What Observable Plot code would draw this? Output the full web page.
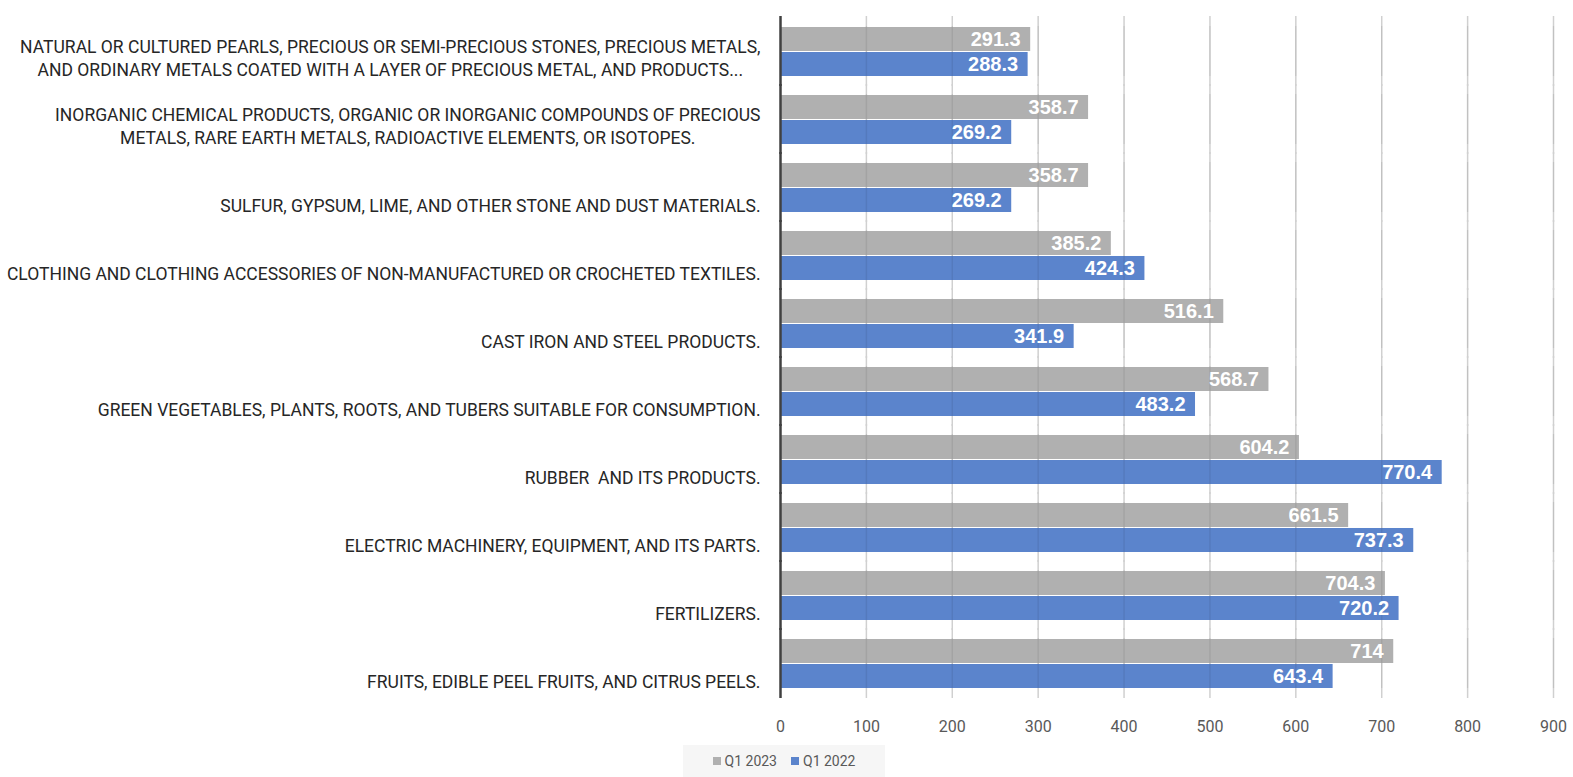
<!DOCTYPE html>
<html><head><meta charset="utf-8">
<script src="https://cdn.jsdelivr.net/npm/d3@7"></script>
<script src="https://cdn.jsdelivr.net/npm/@observablehq/plot@0.6"></script>
<style>
body{margin:0;background:#fff;font-family:Roboto,"Liberation Sans",sans-serif;}
#legend{margin-left:683px;margin-top:5px;width:202px;height:32px;background:#f6f6f6;display:flex;align-items:center;justify-content:center;gap:14px;font-size:14px;color:#595959;}
#legend .item{display:flex;align-items:center;gap:4px;}
#legend .sw{width:8px;height:8px;display:inline-block;}
</style></head><body>
<div id="chart"></div>
<div id="legend"></div>
<script>
const categories = [
  "NATURAL OR CULTURED PEARLS, PRECIOUS OR SEMI-PRECIOUS STONES, PRECIOUS METALS,\nAND ORDINARY METALS COATED WITH A LAYER OF PRECIOUS METAL, AND PRODUCTS...",
  "INORGANIC CHEMICAL PRODUCTS, ORGANIC OR INORGANIC COMPOUNDS OF PRECIOUS\nMETALS, RARE EARTH METALS, RADIOACTIVE ELEMENTS, OR ISOTOPES.",
  "SULFUR, GYPSUM, LIME, AND OTHER STONE AND DUST MATERIALS.",
  "CLOTHING AND CLOTHING ACCESSORIES OF NON-MANUFACTURED OR CROCHETED TEXTILES.",
  "CAST IRON AND STEEL PRODUCTS.",
  "GREEN VEGETABLES, PLANTS, ROOTS, AND TUBERS SUITABLE FOR CONSUMPTION.",
  "RUBBER  AND ITS PRODUCTS.",
  "ELECTRIC MACHINERY, EQUIPMENT, AND ITS PARTS.",
  "FERTILIZERS.",
  "FRUITS, EDIBLE PEEL FRUITS, AND CITRUS PEELS."
];
const q2023 = [291.3, 358.7, 358.7, 385.2, 516.1, 568.7, 604.2, 661.5, 704.3, 714];
const q2022 = [288.3, 269.2, 269.2, 424.3, 341.9, 483.2, 770.4, 737.3, 720.2, 643.4];
const seriesNames = ["Q1 2023", "Q1 2022"];
const seriesColors = ["#b0b0b0", "#5b84cc"];
const xTicks = [0, 100, 200, 300, 400, 500, 600, 700, 800, 900];

const data = categories.flatMap((c, i) => [
  {category: c, series: seriesNames[0], value: q2023[i]},
  {category: c, series: seriesNames[1], value: q2022[i]}
]);

const font = 'Roboto,"Liberation Sans",sans-serif';

const chart = Plot.plot({
  width: 1573, height: 740,
  marginLeft: 780, marginRight: 20, marginTop: 13, marginBottom: 39,
  style: {fontFamily: font, background: "#fff"},
  x: {domain: [0, 900], ticks: xTicks, axis: null},
  fy: {domain: categories, paddingInner: 0.26, paddingOuter: 0.13, axis: null},
  y: {domain: seriesNames, paddingInner: 0.04, paddingOuter: 0, axis: null},
  color: {domain: seriesNames, range: seriesColors},
  marks: [
    Plot.ruleX(xTicks.slice(1), {x: d => d, stroke: "#d0d0d0", strokeWidth: 1.5, insetTop: -10, insetBottom: -10}),
    Plot.barX(data, {fy: "category", y: "series", x: "value", fill: "series"}),
    Plot.ruleX(xTicks.slice(1), {x: d => d, stroke: "#000", strokeOpacity: 0.07, strokeWidth: 1.5}),
    Plot.ruleX([0], {x: d => d, stroke: "#404040", strokeWidth: 2.5, insetTop: -10, insetBottom: -10}),
    Plot.text(data, {fy: "category", y: "series", x: "value", text: d => String(d.value),
      textAnchor: "end", dx: -10, fill: "white", fontWeight: "bold", fontSize: 20,
      fontFamily: '"Liberation Sans",sans-serif'}),
    Plot.axisX({ticks: xTicks, tickSize: 0, tickPadding: 32, fontSize: 16, color: "#595959", label: null}),
    Plot.axisFy({anchor: "left", label: null, tickSize: 0, tickPadding: 20, fontSize: 17.5,
      lineHeight: 1.27, lineAnchor: "bottom", dy: 24, color: "#262626"})
  ]
});
document.getElementById("chart").append(chart);

// center each line of the category labels within a right-aligned block
chart.querySelectorAll('g[aria-label="fy-axis tick label"] text').forEach(t => {
  t.setAttribute("text-anchor", "middle");
  const b = t.getBBox();
  const shift = -(b.x + b.width);
  const tr = t.getAttribute("transform") || "";
  t.setAttribute("transform", tr + ` translate(${shift},0)`);
});

const legend = document.getElementById("legend");
seriesNames.forEach((s, i) => {
  const it = document.createElement("div");
  it.className = "item";
  const sw = document.createElement("span");
  sw.className = "sw";
  sw.style.background = seriesColors[i];
  const lb = document.createElement("span");
  lb.textContent = s;
  it.append(sw, lb);
  legend.append(it);
});
</script>
</body></html>
